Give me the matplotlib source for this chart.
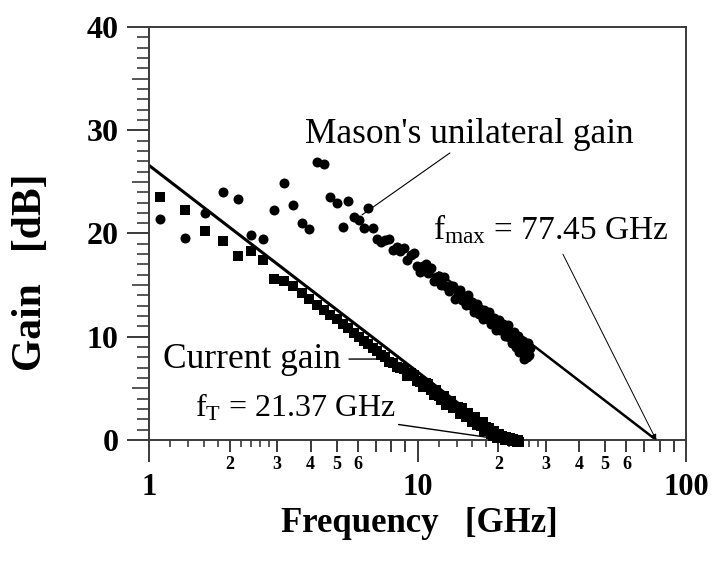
import matplotlib
matplotlib.use("Agg")
import matplotlib.pyplot as plt
from matplotlib.ticker import FixedLocator, NullLocator, FixedFormatter, NullFormatter

plt.rcParams['font.family'] = ['Liberation Serif', 'DejaVu Serif']
plt.rcParams['mathtext.fontset'] = 'custom'
plt.rcParams['mathtext.rm'] = 'Liberation Serif'
plt.rcParams['mathtext.it'] = 'Liberation Serif:italic'

# ---------------- data ----------------
freq_ghz = [
    1.10, 1.36, 1.62, 1.88, 2.14, 2.40, 2.66, 2.92, 3.18, 3.44,
    3.70, 3.96, 4.22, 4.48, 4.74, 5.00, 5.26, 5.52, 5.78, 6.04,
    6.30, 6.56, 6.82, 7.08, 7.34, 7.60, 7.86, 8.12, 8.38, 8.64,
    8.90, 9.16, 9.42, 9.68, 9.94, 10.20, 10.46, 10.72, 10.98, 11.24,
    11.50, 11.76, 12.02, 12.28, 12.54, 12.80, 13.06, 13.32, 13.58, 13.84,
    14.10, 14.36, 14.62, 14.88, 15.14, 15.40, 15.66, 15.92, 16.18, 16.44,
    16.70, 16.96, 17.22, 17.48, 17.74, 18.00, 18.26, 18.52, 18.78, 19.04,
    19.30, 19.56, 19.82, 20.08, 20.34, 20.60, 20.86, 21.12, 21.38, 21.64,
    21.90, 22.16, 22.42, 22.68, 22.94, 23.20, 23.46, 23.72, 23.98, 24.24,
    24.50, 24.76, 25.02, 25.28, 25.54, 25.80, 26.06, 26.32,
]

current_gain_db = [
    23.5, 22.3, 20.2, 19.3, 17.8, 18.3, 17.4, 15.6, 15.4, 14.9,
    14.2, 13.7, 13.1, 12.6, 12.1, 11.7, 11.2, 10.8, 10.4, 10.0,
    9.6, 9.3, 8.9, 8.6, 8.2, 8.0, 7.6, 7.5, 7.1, 7.0,
    6.9, 6.2, 6.5, 6.3, 5.7, 5.6, 5.1, 5.5, 5.4, 4.8,
    4.4, 4.8, 4.3, 3.9, 4.3, 3.4, 3.8, 3.8, 3.1, 3.2,
    3.2, 2.5, 3.1, 2.5, 2.2, 2.6, 2.2, 1.7, 2.1, 2.2,
    1.5, 1.7, 1.4, 1.7, 0.9, 1.3, 1.0, 1.2, 0.6, 0.4,
    0.9, 0.6, 0.2, 0.6, 0.2, 0.4, 0.2, 0.0, 0.3, 0.2,
    0.0, 0.2, -0.1, 0.1, 0.0, 0.0, -0.2, 0.0, -0.2,
]

mason_gain_db = [
    21.4, 19.6, 22.0, 24.0, 23.3, 19.9, 19.5, 22.3, 24.9, 22.8,
    21.0, 20.4, 26.9, 26.7, 23.5, 23.0, 20.6, 23.1, 21.6, 21.3,
    20.5, 22.5, 20.5, 19.5, 19.2, 19.4, 19.5, 18.4, 18.7, 18.3,
    18.6, 17.4, 17.9, 18.1, 16.9, 16.3, 16.9, 17.0, 16.2, 16.7,
    15.4, 15.8, 15.9, 15.0, 15.8, 14.9, 14.4, 14.9, 14.9, 13.7,
    14.2, 14.5, 13.6, 13.8, 13.1, 14.0, 13.1, 13.4, 12.4, 13.1,
    13.2, 12.2, 12.5, 11.7, 12.6, 12.2, 11.7, 12.4, 11.2, 11.6,
    11.8, 10.7, 11.4, 11.6, 10.7, 10.8, 11.2, 10.1, 10.8, 11.1,
    10.0, 10.3, 9.4, 10.4, 10.5, 9.0, 9.8, 10.1, 8.5, 9.7,
    8.8, 9.6, 7.8, 8.9, 8.0, 9.4, 8.2, 8.9,
]

# -20 dB/decade extrapolation lines
ft_line_f = [1.0, 21.37]
ft_line_db = [26.6, 0.0]
fmax_line_f = [12.0, 77.45]
fmax_line_db = [16.2, 0.0]

x_major = [1, 10, 100]
x_major_labels = ["1", "10", "100"]
x_minor = [2, 3, 4, 5, 6, 7, 8, 9, 20, 30, 40, 50, 60, 70, 80, 90]
x_minor_labels = ["2", "3", "4", "5", "6", "", "", "",
                  "2", "3", "4", "5", "6", "", "", ""]
x_fine = [1.2, 1.4, 1.6, 1.8, 2.2, 2.4, 2.6, 2.8,
          12, 14, 16, 18, 22, 24, 26, 28]
y_major = [0, 10, 20, 30, 40]
y_mid = [5, 15, 25, 35]
y_minor = [v for v in range(0, 41) if v % 5 != 0]

# ---------------- figure ----------------
W, H = 713, 561
fig = plt.figure(figsize=(W / 100, H / 100), dpi=100)
ax = fig.add_axes([149 / W, 1 - 440 / H, (686 - 149) / W, (440 - 27) / H])

spine_c = "#3a3a3a"
ax.set_xscale("log")
ax.set_xlim(1, 100)
ax.set_ylim(0, 40)

ax.plot(ft_line_f, ft_line_db, color="black", lw=2.2, zorder=2)
ax.plot(fmax_line_f, fmax_line_db, color="black", lw=1.8, zorder=2)

ax.plot(freq_ghz[:len(current_gain_db)], current_gain_db, ls="none",
        marker="s", ms=6.8, mfc="black", mec="black", mew=0, zorder=3,
        clip_on=False)
ax.plot(freq_ghz[:len(mason_gain_db)], mason_gain_db, ls="none",
        marker="o", ms=7.2, mfc="black", mec="black", mew=0, zorder=3)

for s in ax.spines.values():
    s.set_color(spine_c)
    s.set_linewidth(1.4)

ax.xaxis.set_major_locator(FixedLocator(x_major))
ax.xaxis.set_major_formatter(FixedFormatter(x_major_labels))
ax.xaxis.set_minor_locator(FixedLocator(x_minor))
ax.xaxis.set_minor_formatter(FixedFormatter(x_minor_labels))
ax.yaxis.set_major_locator(FixedLocator(y_major))
ax.yaxis.set_minor_locator(FixedLocator(y_minor))

ax.tick_params(axis="x", which="major", direction="out", length=16, width=1.4,
               color=spine_c, pad=8, labelsize=22)
ax.tick_params(axis="x", which="minor", direction="out", length=8.5, width=1.4,
               color=spine_c, pad=3, labelsize=13)
ax.tick_params(axis="y", which="major", direction="out", length=16, width=1.4,
               color=spine_c, pad=6, labelsize=23)
ax.tick_params(axis="y", which="minor", direction="out", length=8.5, width=1.2,
               color=spine_c)
for lab in ax.get_xticklabels(which="both") + ax.get_yticklabels():
    lab.set_fontweight("bold")

# medium y ticks at 5,15,25,35
sy = ax.secondary_yaxis("left")
sy.yaxis.set_major_locator(FixedLocator(y_mid))
sy.yaxis.set_minor_locator(NullLocator())
sy.tick_params(axis="y", which="major", length=12, width=1.2, color=spine_c,
               labelleft=False)
sy.spines["left"].set_visible(False)

# fine x ticks
sx = ax.secondary_xaxis("bottom")
sx.xaxis.set_major_locator(FixedLocator(x_fine))
sx.xaxis.set_major_formatter(NullFormatter())
sx.xaxis.set_minor_locator(NullLocator())
sx.tick_params(axis="x", which="major", length=5, width=1.2, color=spine_c,
               labelbottom=False)
sx.spines["bottom"].set_visible(False)

# axis labels
fig.text(419 / W, 1 - 524 / H, "Frequency   [GHz]", ha="center", va="center",
         fontsize=25, fontweight="bold")
fig.text(31 / W, 1 - 272 / H, "Gain   [dB]", ha="center", va="center",
         fontsize=30, fontweight="bold", rotation=90)

# annotations
ann_kw = dict(color="black", ha="left", va="baseline")
ax.text(3.80, 28.8, "Mason's unilateral gain", fontsize=25.5, **ann_kw)
ax.annotate("", xy=(6.21, 21.8), xytext=(13.2, 27.8),
            arrowprops=dict(arrowstyle="-", lw=0.8, color="black",
                            shrinkA=0, shrinkB=0))
ax.text(11.4, 19.4, r"f$_{\rm max}$ = 77.45 GHz", fontsize=24, **ann_kw)
ax.annotate("", xy=(77.45, 0.0), xytext=(34.8, 18.0),
            arrowprops=dict(arrowstyle="-|>", lw=0.7, color="black",
                            mutation_scale=8, shrinkA=0, shrinkB=0))
ax.text(1.127, 6.97, "Current gain", fontsize=25.5, **ann_kw)
ax.annotate("", xy=(7.31, 7.84), xytext=(5.56, 7.84),
            arrowprops=dict(arrowstyle="-", lw=1.0, color="black",
                            shrinkA=0, shrinkB=0))
ax.text(1.483, 2.23, r"f$_{\rm T}$ = 21.37 GHz", fontsize=23, **ann_kw)
ax.annotate("", xy=(21.37, 0.0), xytext=(8.5, 1.5),
            arrowprops=dict(arrowstyle="-", lw=1.0, color="black",
                            shrinkA=0, shrinkB=0))

fig.savefig("out.png", dpi=100)
